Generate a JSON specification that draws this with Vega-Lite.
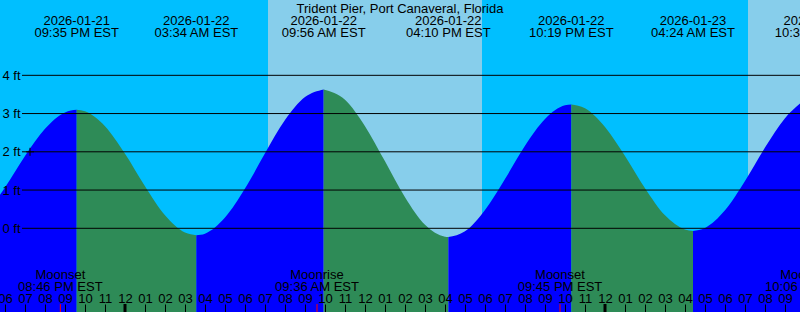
{
  "$schema": "https://vega.github.io/schema/vega-lite/v6.json",
  "width": 800,
  "height": 312,
  "autosize": "none",
  "padding": 0,
  "background": "#00BFFF",
  "view": {"stroke": null, "fill": "#00BFFF"},
  "config": {"font": "Liberation Sans"},
  "datasets": {
    "day": [
      {"t": "2026-01-22T07:09", "t2": "2026-01-22T17:51"},
      {"t": "2026-01-23T07:09", "t2": "2026-01-23T09:45"}
    ],
    "tide": [
      {"t": "2026-01-21T17:45", "h": 0.88, "seg": "a", "phase": "rising"},
      {"t": "2026-01-21T18:00", "h": 1.07, "seg": "a", "phase": "rising"},
      {"t": "2026-01-21T19:00", "h": 1.89, "seg": "a", "phase": "rising"},
      {"t": "2026-01-21T20:00", "h": 2.60, "seg": "a", "phase": "rising"},
      {"t": "2026-01-21T21:00", "h": 3.03, "seg": "a", "phase": "rising"},
      {"t": "2026-01-21T21:35", "h": 3.10, "seg": "a", "phase": "rising"},
      {"t": "2026-01-21T21:35", "h": 3.10, "seg": "b", "phase": "falling"},
      {"t": "2026-01-21T22:00", "h": 3.06, "seg": "b", "phase": "falling"},
      {"t": "2026-01-21T23:00", "h": 2.67, "seg": "b", "phase": "falling"},
      {"t": "2026-01-22T00:00", "h": 1.95, "seg": "b", "phase": "falling"},
      {"t": "2026-01-22T01:00", "h": 1.10, "seg": "b", "phase": "falling"},
      {"t": "2026-01-22T02:00", "h": 0.34, "seg": "b", "phase": "falling"},
      {"t": "2026-01-22T03:00", "h": -0.11, "seg": "b", "phase": "falling"},
      {"t": "2026-01-22T03:34", "h": -0.18, "seg": "b", "phase": "falling"},
      {"t": "2026-01-22T03:34", "h": -0.18, "seg": "c", "phase": "rising"},
      {"t": "2026-01-22T04:00", "h": -0.14, "seg": "c", "phase": "rising"},
      {"t": "2026-01-22T05:00", "h": 0.28, "seg": "c", "phase": "rising"},
      {"t": "2026-01-22T06:00", "h": 1.04, "seg": "c", "phase": "rising"},
      {"t": "2026-01-22T07:00", "h": 1.96, "seg": "c", "phase": "rising"},
      {"t": "2026-01-22T08:00", "h": 2.83, "seg": "c", "phase": "rising"},
      {"t": "2026-01-22T09:00", "h": 3.43, "seg": "c", "phase": "rising"},
      {"t": "2026-01-22T09:56", "h": 3.63, "seg": "c", "phase": "rising"},
      {"t": "2026-01-22T09:56", "h": 3.63, "seg": "d", "phase": "falling"},
      {"t": "2026-01-22T11:00", "h": 3.36, "seg": "d", "phase": "falling"},
      {"t": "2026-01-22T12:00", "h": 2.67, "seg": "d", "phase": "falling"},
      {"t": "2026-01-22T13:00", "h": 1.75, "seg": "d", "phase": "falling"},
      {"t": "2026-01-22T14:00", "h": 0.81, "seg": "d", "phase": "falling"},
      {"t": "2026-01-22T15:00", "h": 0.09, "seg": "d", "phase": "falling"},
      {"t": "2026-01-22T16:00", "h": -0.22, "seg": "d", "phase": "falling"},
      {"t": "2026-01-22T16:10", "h": -0.23, "seg": "d", "phase": "falling"},
      {"t": "2026-01-22T16:10", "h": -0.23, "seg": "e", "phase": "rising"},
      {"t": "2026-01-22T17:00", "h": -0.08, "seg": "e", "phase": "rising"},
      {"t": "2026-01-22T18:00", "h": 0.48, "seg": "e", "phase": "rising"},
      {"t": "2026-01-22T19:00", "h": 1.29, "seg": "e", "phase": "rising"},
      {"t": "2026-01-22T20:00", "h": 2.16, "seg": "e", "phase": "rising"},
      {"t": "2026-01-22T21:00", "h": 2.86, "seg": "e", "phase": "rising"},
      {"t": "2026-01-22T22:00", "h": 3.22, "seg": "e", "phase": "rising"},
      {"t": "2026-01-22T22:19", "h": 3.24, "seg": "e", "phase": "rising"},
      {"t": "2026-01-22T22:19", "h": 3.24, "seg": "f", "phase": "falling"},
      {"t": "2026-01-22T23:00", "h": 3.14, "seg": "f", "phase": "falling"},
      {"t": "2026-01-23T00:00", "h": 2.65, "seg": "f", "phase": "falling"},
      {"t": "2026-01-23T01:00", "h": 1.89, "seg": "f", "phase": "falling"},
      {"t": "2026-01-23T02:00", "h": 1.05, "seg": "f", "phase": "falling"},
      {"t": "2026-01-23T03:00", "h": 0.34, "seg": "f", "phase": "falling"},
      {"t": "2026-01-23T04:00", "h": -0.03, "seg": "f", "phase": "falling"},
      {"t": "2026-01-23T04:24", "h": -0.07, "seg": "f", "phase": "falling"},
      {"t": "2026-01-23T04:24", "h": -0.07, "seg": "g", "phase": "rising"},
      {"t": "2026-01-23T05:00", "h": 0.01, "seg": "g", "phase": "rising"},
      {"t": "2026-01-23T06:00", "h": 0.47, "seg": "g", "phase": "rising"},
      {"t": "2026-01-23T07:00", "h": 1.24, "seg": "g", "phase": "rising"},
      {"t": "2026-01-23T08:00", "h": 2.11, "seg": "g", "phase": "rising"},
      {"t": "2026-01-23T09:00", "h": 2.88, "seg": "g", "phase": "rising"},
      {"t": "2026-01-23T09:45", "h": 3.26, "seg": "g", "phase": "rising"}
    ],
    "grid": [{"ft": 0}, {"ft": 1}, {"ft": 2}, {"ft": 3}, {"ft": 4}],
    "mark": [{"t": "2026-01-21T19:15", "h": 2.0}],
    "midnight": [{"t": "2026-01-22T00:00"}, {"t": "2026-01-23T00:00"}],
    "events": [
      {"t": "2026-01-21T21:35", "date": "2026-01-21", "time": "09:35 PM EST"},
      {"t": "2026-01-22T03:34", "date": "2026-01-22", "time": "03:34 AM EST"},
      {"t": "2026-01-22T09:56", "date": "2026-01-22", "time": "09:56 AM EST"},
      {"t": "2026-01-22T16:10", "date": "2026-01-22", "time": "04:10 PM EST"},
      {"t": "2026-01-22T22:19", "date": "2026-01-22", "time": "10:19 PM EST"},
      {"t": "2026-01-23T04:24", "date": "2026-01-23", "time": "04:24 AM EST"},
      {"t": "2026-01-23T10:35", "date": "2026-01-23", "time": "10:35 AM EST"}
    ],
    "moon": [
      {"t": "2026-01-21T20:46", "event": "Moonset", "time": "08:46 PM EST"},
      {"t": "2026-01-22T09:36", "event": "Moonrise", "time": "09:36 AM EST"},
      {"t": "2026-01-22T21:45", "event": "Moonset", "time": "09:45 PM EST"},
      {"t": "2026-01-23T10:06", "event": "Moonrise", "time": "10:06 AM EST"}
    ],
    "title": [{"text": "Trident Pier, Port Canaveral, Florida"}]
  },
  "layer": [
    {
      "data": {"name": "day"},
      "mark": {"type": "rect", "color": "#87CEEB"},
      "encoding": {
        "x": {
          "field": "t", "type": "temporal", "title": null,
          "scale": {"domain": [{"year": 2026, "month": 1, "date": 21, "hours": 17, "minutes": 45}, {"year": 2026, "month": 1, "date": 23, "hours": 9, "minutes": 45}], "nice": false},
          "axis": {
            "title": null, "orient": "bottom", "offset": -8, "domain": false, "grid": false,
            "tickCount": 40, "format": "%I",
            "labelFlush": false, "labelOverlap": false, "labelAngle": 0,
            "tickSize": 8, "tickColor": "black", "tickWidth": 1,
            "labelBaseline": "alphabetic", "labelPadding": -9.5,
            "labelFont": "Liberation Sans", "labelFontSize": 13, "labelColor": "black",
            "zindex": 1
          }
        },
        "x2": {"field": "t2"}
      }
    },
    {
      "data": {"name": "tide"},
      "mark": {"type": "area", "interpolate": "monotone", "clip": true},
      "encoding": {
        "x": {"field": "t", "type": "temporal", "title": null},
        "y": {"field": "h", "type": "quantitative", "stack": null, "title": null,
              "scale": {"domain": [-2.188, 5.969], "nice": false, "zero": false}},
        "y2": {"datum": -2.188},
        "color": {"field": "phase", "type": "nominal",
                  "scale": {"domain": ["rising", "falling"], "range": ["#0000FF", "#2E8B57"]}, "legend": null},
        "detail": {"field": "seg"}
      }
    },
    {
      "data": {"name": "grid"},
      "mark": {"type": "rule", "color": "black", "strokeWidth": 1},
      "encoding": {
        "y": {"field": "ft", "type": "quantitative", "title": null,
              "axis": {"title": null, "orient": "left", "offset": -21, "values": [0, 1, 2, 3, 4],
                       "labelExpr": "datum.value + ' ft'", "domain": false, "ticks": false, "grid": false,
                       "labelPadding": 1, "labelFont": "Liberation Sans", "labelFontSize": 13,
                       "labelColor": "black", "labelBaseline": "middle", "zindex": 1}},
        "x": {"value": 22},
        "x2": {"value": 800}
      }
    },
    {
      "data": {"name": "mark"},
      "mark": {"type": "point", "shape": "M-1,0H1M0,-1V1", "size": 64, "filled": false, "stroke": "black", "strokeWidth": 1, "opacity": 1},
      "encoding": {
        "x": {"field": "t", "type": "temporal", "title": null},
        "y": {"field": "h", "type": "quantitative", "title": null}
      }
    },
    {
      "data": {"name": "title"},
      "mark": {"type": "text", "font": "Liberation Sans", "fontSize": 13, "color": "black", "baseline": "alphabetic", "align": "center"},
      "encoding": {
        "x": {"value": 400},
        "y": {"value": 12.5},
        "text": {"field": "text"}
      }
    },
    {
      "data": {"name": "events"},
      "mark": {"type": "text", "font": "Liberation Sans", "fontSize": 13, "color": "black", "baseline": "alphabetic", "align": "center"},
      "encoding": {
        "x": {"field": "t", "type": "temporal", "title": null},
        "y": {"value": 25},
        "text": {"field": "date"}
      }
    },
    {
      "data": {"name": "events"},
      "mark": {"type": "text", "font": "Liberation Sans", "fontSize": 13, "color": "black", "baseline": "alphabetic", "align": "center"},
      "encoding": {
        "x": {"field": "t", "type": "temporal", "title": null},
        "y": {"value": 36.5},
        "text": {"field": "time"}
      }
    },
    {
      "data": {"name": "moon"},
      "mark": {"type": "text", "font": "Liberation Sans", "fontSize": 13, "color": "black", "baseline": "alphabetic", "align": "center"},
      "encoding": {
        "x": {"field": "t", "type": "temporal", "title": null},
        "y": {"value": 279},
        "text": {"field": "event"}
      }
    },
    {
      "data": {"name": "moon"},
      "mark": {"type": "text", "font": "Liberation Sans", "fontSize": 13, "color": "black", "baseline": "alphabetic", "align": "center"},
      "encoding": {
        "x": {"field": "t", "type": "temporal", "title": null},
        "y": {"value": 290.5},
        "text": {"field": "time"}
      }
    },
    {
      "data": {"name": "moon"},
      "mark": {"type": "rule", "color": "#FF0000", "strokeWidth": 1},
      "encoding": {
        "x": {"field": "t", "type": "temporal", "title": null},
        "y": {"value": 304},
        "y2": {"value": 312}
      }
    },
    {
      "data": {"name": "midnight"},
      "mark": {"type": "rule", "color": "black", "strokeWidth": 3},
      "encoding": {
        "x": {"field": "t", "type": "temporal", "title": null},
        "y": {"value": 304},
        "y2": {"value": 312}
      }
    }
  ]
}
